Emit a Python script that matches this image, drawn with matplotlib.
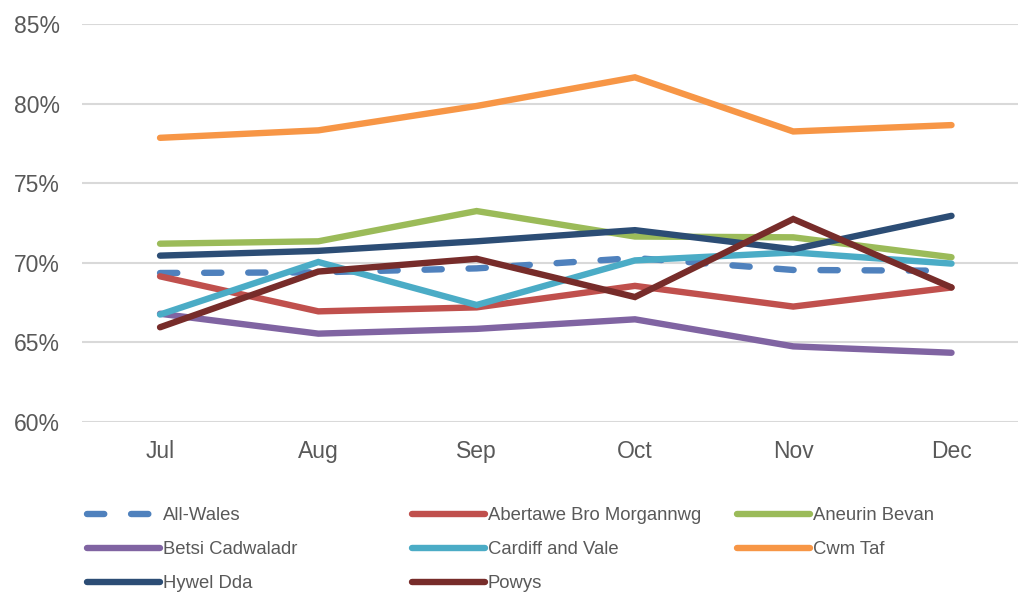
import matplotlib
matplotlib.use('agg')
import matplotlib.pyplot as plt
from matplotlib.lines import Line2D
from matplotlib.ticker import PercentFormatter

months = ['Jul', 'Aug', 'Sep', 'Oct', 'Nov', 'Dec']

all_wales = [69.36, 69.4, 69.65, 70.3, 69.55, 69.5]
abertawe = [69.15, 66.95, 67.2, 68.55, 67.25, 68.45]
aneurin = [71.2, 71.35, 73.25, 71.65, 71.6, 70.35]
betsi = [66.8, 65.55, 65.85, 66.45, 64.75, 64.35]
cardiff = [66.75, 70.05, 67.35, 70.15, 70.65, 69.95]
cwm_taf = [77.85, 78.32, 79.85, 81.65, 78.25, 78.65]
hywel = [70.45, 70.75, 71.35, 72.05, 70.85, 72.95]
powys = [65.95, 69.45, 70.25, 67.85, 72.75, 68.45]

series = [
    ('All-Wales', all_wales, '#4F81BD'),
    ('Abertawe Bro Morgannwg', abertawe, '#C0504D'),
    ('Aneurin Bevan', aneurin, '#9BBB59'),
    ('Betsi Cadwaladr', betsi, '#8064A2'),
    ('Cardiff and Vale', cardiff, '#4BACC6'),
    ('Cwm Taf', cwm_taf, '#F79646'),
    ('Hywel Dda', hywel, '#2C4D75'),
    ('Powys', powys, '#772C2A'),
]

plt.rcParams['font.family'] = ['Liberation Sans', 'DejaVu Sans']
grey = '#595959'
lw = 4.6

fig = plt.figure(figsize=(10.18, 5.94), dpi=100)
ax = fig.add_axes([82 / 1018, 1 - 422 / 594, 1 - 82 / 1018, (422 - 24) / 594])

x = list(range(len(months)))
handles = {}
for name, vals, col in series:
    if name == 'All-Wales':
        ln, = ax.plot(x, vals, color=col, lw=lw, dashes=(2.7, 4.2),
                      dash_capstyle='round', solid_capstyle='round')
    else:
        ln, = ax.plot(x, vals, color=col, lw=lw, solid_capstyle='round',
                      solid_joinstyle='miter')
    handles[name] = ln

ax.set_xlim(-0.493, 5.42)
ax.set_ylim(60, 85)
ax.set_yticks([60, 65, 70, 75, 80, 85])
ax.yaxis.set_major_formatter(PercentFormatter(decimals=0))
ax.set_xticks(x)
ax.set_xticklabels(months)
ax.tick_params(axis='both', length=0, labelsize=16.5, colors=grey)
ax.tick_params(axis='y', pad=16)
ax.tick_params(axis='x', pad=13)
ax.grid(axis='y', color='#d9d9d9', lw=1.5)
ax.set_axisbelow(True)
for s in ax.spines.values():
    s.set_visible(False)

# legend laid out in three columns, filled row by row
cols = [['All-Wales', 'Betsi Cadwaladr', 'Hywel Dda'],
        ['Abertawe Bro Morgannwg', 'Cardiff and Vale', 'Powys'],
        ['Aneurin Bevan', 'Cwm Taf']]
col_x = [87, 412, 737]
for names, cx in zip(cols, col_x):
    hs = []
    for n in names:
        src = handles[n]
        h = Line2D([], [], color=src.get_color(), lw=lw, solid_capstyle='round',
                   dash_capstyle='round')
        if n == 'All-Wales':
            h.set_dashes((2.7, 4.2))
        hs.append(h)
    fig.legend(hs, names, loc='upper left',
               bbox_to_anchor=(cx / 1018, 1 - 507 / 594),
               frameon=False, fontsize=13.3, labelcolor=grey,
               handlelength=3.95, handletextpad=0.15, labelspacing=0.92,
               borderpad=0, borderaxespad=0)

fig.savefig('out.png', dpi=100)
